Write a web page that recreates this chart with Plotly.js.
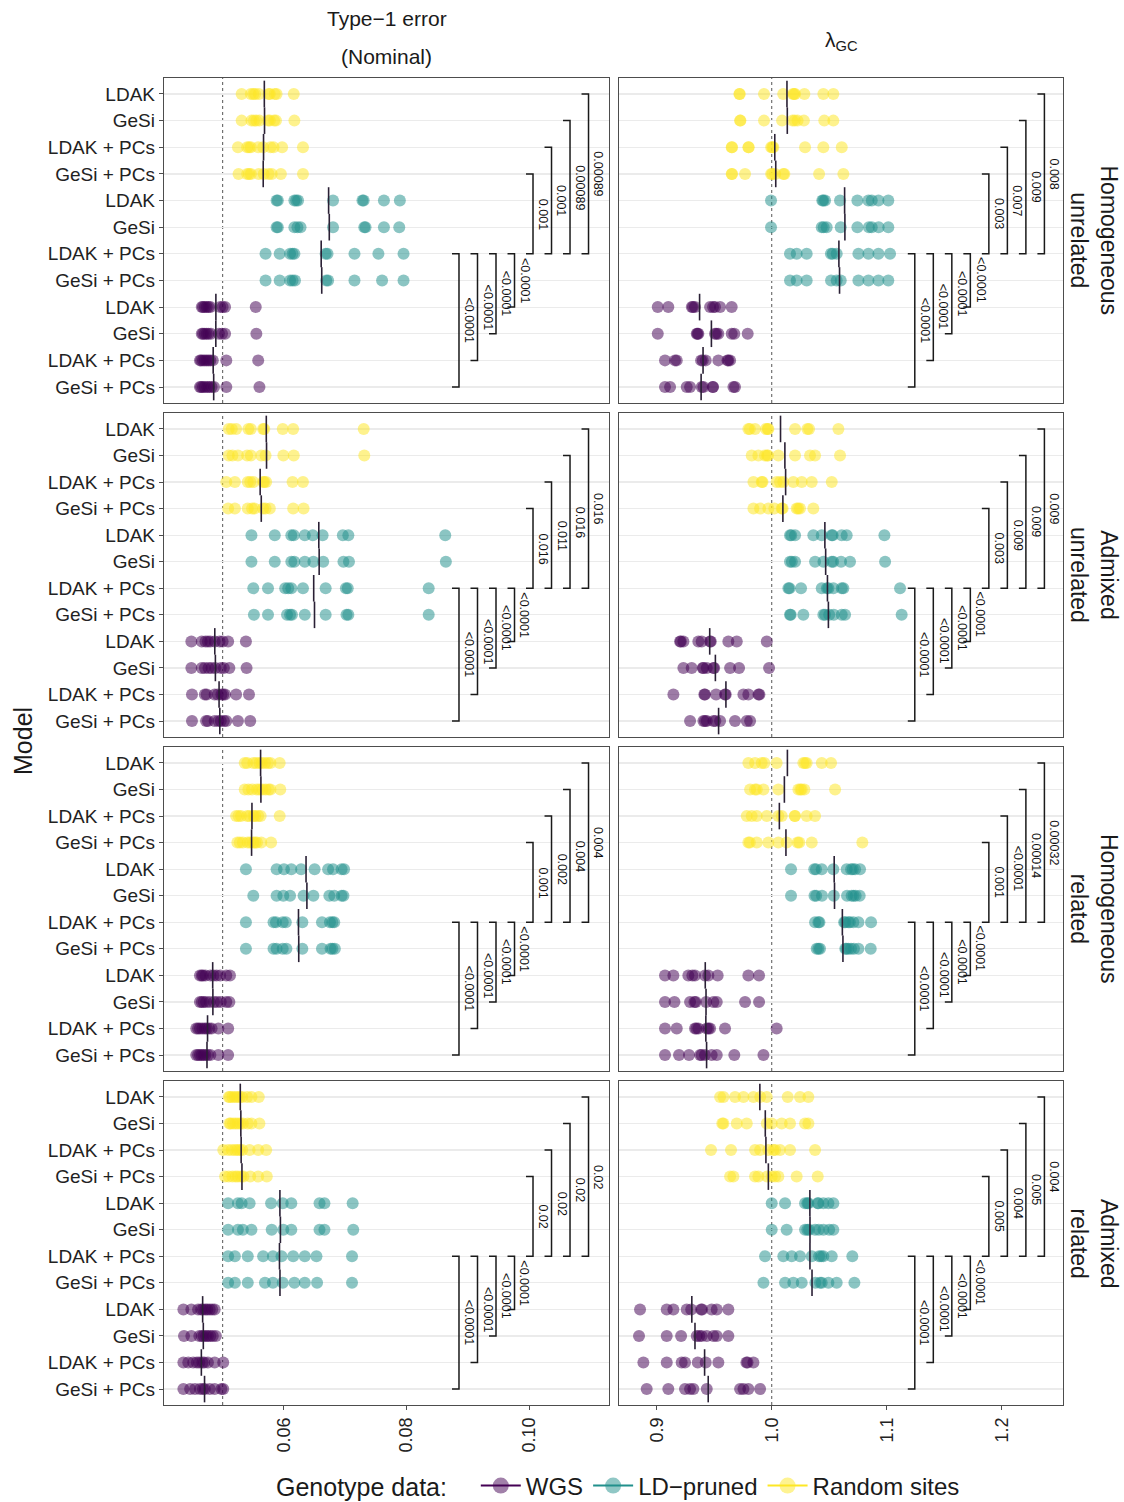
<!DOCTYPE html>
<html><head><meta charset="utf-8">
<script src="https://cdn.plot.ly/plotly-3.0.1.min.js"></script>
<style>html,body{margin:0;padding:0;background:#fff}#chart{width:1124px;height:1502px}</style>
</head><body><div id="chart"></div>
<script>
// ---------------- DATA ----------------
const methods = ["LDAK", "GeSi", "LDAK + PCs", "GeSi + PCs"];
const tickLabels = methods.concat(methods, methods);
const genotypeNames = ["WGS", "LD\u2212pruned", "Random sites"];
const genotypeColors = ["#440154", "#21908C", "#FDE725"];
// rows 0-3: Random sites, 4-7: LD-pruned, 8-11: WGS
const rowGenotype = [2,2,2,2,1,1,1,1,0,0,0,0];
const columnTitles = ["Type\u22121 error", "(Nominal)", "\u03bb<sub>GC</sub>"];
const rowStrips = ["Homogeneous<br>unrelated", "Admixed<br>unrelated", "Homogeneous<br>related", "Admixed<br>related"];
const xTickVals = [[0.06, 0.08, 0.10], [0.9, 1.0, 1.1, 1.2]];
const xTickText = [["0.06", "0.08", "0.10"], ["0.9", "1.0", "1.1", "1.2"]];
const nominalRef = [0.05, 1.0];

const type1_HomUnrel = [
 [0.0531,0.0546,0.0550,0.0553,0.0559,0.0575,0.0577,0.0585,0.0588,0.0616],
 [0.0531,0.0547,0.0551,0.0555,0.0560,0.0574,0.0577,0.0584,0.0587,0.0617],
 [0.0525,0.0540,0.0543,0.0546,0.0558,0.0566,0.0578,0.0583,0.0597,0.0631],
 [0.0526,0.0540,0.0543,0.0546,0.0559,0.0567,0.0575,0.0580,0.0595,0.0631],
 [0.0588,0.0590,0.0617,0.0620,0.0623,0.0680,0.0728,0.0730,0.0763,0.0789],
 [0.0588,0.0590,0.0617,0.0622,0.0627,0.0680,0.0731,0.0733,0.0763,0.0788],
 [0.0570,0.0593,0.0610,0.0614,0.0617,0.0668,0.0671,0.0715,0.0754,0.0795],
 [0.0570,0.0593,0.0610,0.0614,0.0618,0.0669,0.0672,0.0715,0.0760,0.0795],
 [0.0466,0.0468,0.0471,0.0474,0.0477,0.0480,0.0496,0.0500,0.0504,0.0554],
 [0.0466,0.0468,0.0471,0.0474,0.0477,0.0481,0.0494,0.0499,0.0504,0.0555],
 [0.0463,0.0465,0.0468,0.0471,0.0474,0.0477,0.0480,0.0484,0.0506,0.0558],
 [0.0463,0.0465,0.0468,0.0471,0.0475,0.0478,0.0482,0.0486,0.0506,0.0560]
];
const lambda_HomUnrel = [
 [0.9719,0.9722,0.9933,1.0100,1.0185,1.0195,1.0203,1.0284,1.0449,1.0536],
 [0.9725,0.9728,0.9933,1.0090,1.0180,1.0200,1.0225,1.0280,1.0457,1.0536],
 [0.9652,0.9655,0.9797,0.9800,0.9995,1.0005,1.0014,1.0290,1.0449,1.0609],
 [0.9652,0.9655,0.9768,0.9995,1.0005,1.0030,1.0101,1.0110,1.0412,1.0623],
 [0.9994,1.0440,1.0449,1.0464,1.0594,1.0745,1.0841,1.0870,1.0928,1.1014],
 [0.9994,1.0435,1.0452,1.0478,1.0600,1.0745,1.0845,1.0870,1.0930,1.1014],
 [1.0159,1.0217,1.0304,1.0515,1.0530,1.0565,1.0754,1.0841,1.0928,1.1029],
 [1.0159,1.0217,1.0304,1.0516,1.0565,1.0600,1.0754,1.0841,1.0928,1.1014],
 [0.9009,0.9101,0.9305,0.9315,0.9333,0.9464,0.9490,0.9507,0.9551,0.9652],
 [0.9009,0.9348,0.9355,0.9362,0.9507,0.9520,0.9536,0.9652,0.9675,0.9791],
 [0.9072,0.9159,0.9174,0.9386,0.9400,0.9426,0.9536,0.9615,0.9623,0.9638],
 [0.9072,0.9116,0.9261,0.9290,0.9391,0.9406,0.9487,0.9490,0.9667,0.9681]
];
const type1_AdmUnrel = [
 [0.0510,0.0515,0.0522,0.0542,0.0546,0.0566,0.0568,0.0598,0.0615,0.0730],
 [0.0510,0.0516,0.0525,0.0540,0.0546,0.0563,0.0570,0.0599,0.0616,0.0731],
 [0.0506,0.0520,0.0541,0.0545,0.0550,0.0566,0.0568,0.0571,0.0614,0.0631],
 [0.0509,0.0520,0.0541,0.0548,0.0552,0.0566,0.0570,0.0577,0.0615,0.0632],
 [0.0547,0.0585,0.0612,0.0616,0.0634,0.0647,0.0663,0.0696,0.0705,0.0863],
 [0.0547,0.0585,0.0612,0.0617,0.0634,0.0648,0.0664,0.0697,0.0706,0.0864],
 [0.0550,0.0574,0.0602,0.0607,0.0612,0.0631,0.0668,0.0701,0.0704,0.0836],
 [0.0551,0.0574,0.0605,0.0610,0.0613,0.0634,0.0668,0.0702,0.0705,0.0836],
 [0.0449,0.0466,0.0472,0.0476,0.0480,0.0487,0.0495,0.0500,0.0509,0.0538],
 [0.0449,0.0466,0.0471,0.0477,0.0482,0.0488,0.0497,0.0502,0.0511,0.0539],
 [0.0450,0.0471,0.0474,0.0487,0.0492,0.0498,0.0501,0.0504,0.0522,0.0543],
 [0.0450,0.0473,0.0476,0.0487,0.0493,0.0497,0.0502,0.0506,0.0525,0.0545]
];
const lambda_AdmUnrel = [
 [0.9797,0.9810,0.9855,0.9950,0.9965,0.9971,1.0203,1.0310,1.0325,1.0580],
 [0.9826,0.9884,0.9942,0.9960,0.9968,1.0058,1.0203,1.0333,1.0377,1.0594],
 [0.9841,0.9913,0.9920,1.0043,1.0072,1.0101,1.0188,1.0261,1.0348,1.0522],
 [0.9841,0.9899,0.9971,1.0023,1.0087,1.0095,1.0217,1.0230,1.0246,1.0362],
 [1.0159,1.0170,1.0203,1.0362,1.0435,1.0522,1.0530,1.0609,1.0652,1.0980],
 [1.0159,1.0175,1.0203,1.0377,1.0450,1.0522,1.0535,1.0603,1.0681,1.0986],
 [1.0145,1.0155,1.0255,1.0435,1.0480,1.0493,1.0536,1.0609,1.0623,1.1116],
 [1.0159,1.0165,1.0275,1.0449,1.0464,1.0500,1.0540,1.0609,1.0638,1.1130],
 [0.9203,0.9210,0.9232,0.9362,0.9391,0.9464,0.9470,0.9623,0.9696,0.9957],
 [0.9232,0.9304,0.9400,0.9406,0.9435,0.9493,0.9500,0.9638,0.9716,0.9977],
 [0.9145,0.9414,0.9420,0.9516,0.9594,0.9600,0.9754,0.9797,0.9885,0.9893],
 [0.9290,0.9406,0.9420,0.9435,0.9493,0.9510,0.9551,0.9681,0.9783,0.9812]
];
const type1_HomRel = [
 [0.0536,0.0540,0.0550,0.0555,0.0560,0.0564,0.0569,0.0574,0.0578,0.0593],
 [0.0536,0.0542,0.0548,0.0556,0.0560,0.0565,0.0570,0.0575,0.0578,0.0594],
 [0.0522,0.0526,0.0530,0.0540,0.0544,0.0550,0.0553,0.0558,0.0562,0.0593],
 [0.0524,0.0528,0.0533,0.0541,0.0545,0.0550,0.0553,0.0556,0.0563,0.0579],
 [0.0538,0.0588,0.0600,0.0612,0.0628,0.0650,0.0672,0.0680,0.0694,0.0698],
 [0.0550,0.0588,0.0599,0.0610,0.0632,0.0648,0.0674,0.0682,0.0694,0.0697],
 [0.0538,0.0583,0.0587,0.0598,0.0603,0.0630,0.0662,0.0675,0.0679,0.0682],
 [0.0538,0.0583,0.0588,0.0598,0.0604,0.0630,0.0662,0.0676,0.0679,0.0683],
 [0.0463,0.0466,0.0468,0.0472,0.0480,0.0485,0.0490,0.0496,0.0506,0.0512],
 [0.0463,0.0466,0.0469,0.0473,0.0479,0.0486,0.0491,0.0497,0.0506,0.0511],
 [0.0457,0.0460,0.0463,0.0467,0.0471,0.0474,0.0478,0.0482,0.0493,0.0509],
 [0.0457,0.0460,0.0463,0.0466,0.0469,0.0472,0.0476,0.0480,0.0493,0.0509]
];
const lambda_HomRel = [
 [0.9797,0.9855,0.9913,0.9936,1.0043,1.0275,1.0290,1.0304,1.0435,1.0516],
 [0.9812,0.9855,0.9870,0.9928,1.0058,1.0232,1.0250,1.0261,1.0284,1.0551],
 [0.9783,0.9826,0.9870,0.9957,1.0058,1.0087,1.0200,1.0203,1.0304,1.0377],
 [0.9797,0.9810,0.9870,0.9971,1.0058,1.0130,1.0225,1.0240,1.0348,1.0788],
 [1.0168,1.0370,1.0385,1.0435,1.0536,1.0652,1.0690,1.0705,1.0725,1.0768],
 [1.0168,1.0372,1.0387,1.0437,1.0540,1.0655,1.0695,1.0712,1.0730,1.0765],
 [1.0377,1.0406,1.0415,1.0630,1.0640,1.0667,1.0680,1.0710,1.0754,1.0864],
 [1.0391,1.0406,1.0420,1.0640,1.0650,1.0667,1.0690,1.0715,1.0754,1.0861],
 [0.9072,0.9145,0.9275,0.9310,0.9333,0.9420,0.9449,0.9530,0.9797,0.9890],
 [0.9072,0.9154,0.9290,0.9328,0.9340,0.9430,0.9493,0.9522,0.9768,0.9890],
 [0.9072,0.9174,0.9333,0.9345,0.9362,0.9435,0.9450,0.9464,0.9594,1.0043],
 [0.9072,0.9194,0.9281,0.9377,0.9390,0.9420,0.9478,0.9522,0.9675,0.9928]
];
const type1_AdmRel = [
 [0.0510,0.0512,0.0516,0.0520,0.0524,0.0528,0.0532,0.0540,0.0547,0.0559],
 [0.0511,0.0513,0.0517,0.0521,0.0525,0.0529,0.0533,0.0541,0.0547,0.0560],
 [0.0501,0.0509,0.0515,0.0520,0.0524,0.0528,0.0532,0.0544,0.0558,0.0571],
 [0.0504,0.0510,0.0516,0.0521,0.0525,0.0530,0.0534,0.0545,0.0558,0.0572],
 [0.0509,0.0525,0.0531,0.0544,0.0579,0.0598,0.0612,0.0658,0.0666,0.0712],
 [0.0509,0.0525,0.0533,0.0547,0.0580,0.0599,0.0612,0.0658,0.0666,0.0713],
 [0.0509,0.0520,0.0541,0.0566,0.0582,0.0596,0.0615,0.0634,0.0653,0.0711],
 [0.0509,0.0520,0.0541,0.0569,0.0582,0.0598,0.0617,0.0634,0.0654,0.0711],
 [0.0436,0.0449,0.0460,0.0465,0.0468,0.0472,0.0475,0.0479,0.0483,0.0487],
 [0.0437,0.0449,0.0462,0.0466,0.0469,0.0473,0.0476,0.0480,0.0484,0.0489],
 [0.0436,0.0444,0.0452,0.0458,0.0462,0.0467,0.0470,0.0476,0.0487,0.0501],
 [0.0436,0.0447,0.0455,0.0463,0.0468,0.0471,0.0479,0.0487,0.0498,0.0501]
];
const lambda_AdmRel = [
 [0.9551,0.9580,0.9681,0.9754,0.9841,0.9900,0.9957,1.0139,1.0246,1.0319],
 [0.9570,0.9580,0.9696,0.9783,0.9957,1.0000,1.0087,1.0159,1.0290,1.0319],
 [0.9472,0.9646,0.9855,0.9899,0.9971,1.0014,1.0030,1.0072,1.0159,1.0377],
 [0.9638,0.9667,0.9855,0.9884,0.9960,1.0000,1.0029,1.0058,1.0217,1.0400],
 [1.0000,1.0116,1.0290,1.0310,1.0319,1.0400,1.0406,1.0449,1.0493,1.0536],
 [1.0000,1.0130,1.0290,1.0310,1.0325,1.0377,1.0410,1.0450,1.0500,1.0536],
 [0.9942,1.0101,1.0174,1.0246,1.0348,1.0412,1.0430,1.0449,1.0522,1.0701],
 [0.9928,1.0116,1.0188,1.0261,1.0380,1.0420,1.0435,1.0493,1.0565,1.0719],
 [0.8855,0.9087,0.9145,0.9261,0.9300,0.9386,0.9395,0.9478,0.9522,0.9623],
 [0.8846,0.9087,0.9212,0.9348,0.9370,0.9391,0.9435,0.9493,0.9522,0.9623],
 [0.8884,0.9087,0.9217,0.9246,0.9357,0.9426,0.9536,0.9780,0.9790,0.9841],
 [0.8913,0.9101,0.9246,0.9290,0.9319,0.9435,0.9725,0.9754,0.9797,0.9899]
];

// comparison brackets (left to right): first four span rows 6->11,10,9,8 ; last four rows 3,2,1,0 -> 6
const bracketFrom = [6, 6, 6, 6, 3, 2, 1, 0];
const bracketTo   = [11, 10, 9, 8, 6, 6, 6, 6];
const pLower = ["<0.0001", "<0.0001", "<0.0001", "<0.0001"];
const pUpper_type1_HomUnrel  = ["0.001", "0.001", "0.00089", "0.00089"];
const pUpper_lambda_HomUnrel = ["0.003", "0.007", "0.009", "0.008"];
const pUpper_type1_AdmUnrel  = ["0.016", "0.011", "0.016", "0.016"];
const pUpper_lambda_AdmUnrel = ["0.003", "0.009", "0.009", "0.009"];
const pUpper_type1_HomRel    = ["0.001", "0.002", "0.004", "0.004"];
const pUpper_lambda_HomRel   = ["0.001", "<0.0001", "0.00014", "0.00032"];
const pUpper_type1_AdmRel    = ["0.02", "0.02", "0.02", "0.02"];
const pUpper_lambda_AdmRel   = ["0.005", "0.004", "0.005", "0.004"];

const panelData = [
 [type1_HomUnrel, lambda_HomUnrel],
 [type1_AdmUnrel, lambda_AdmUnrel],
 [type1_HomRel, lambda_HomRel],
 [type1_AdmRel, lambda_AdmRel]
];
const panelP = [
 [pUpper_type1_HomUnrel, pUpper_lambda_HomUnrel],
 [pUpper_type1_AdmUnrel, pUpper_lambda_AdmUnrel],
 [pUpper_type1_HomRel, pUpper_lambda_HomRel],
 [pUpper_type1_AdmRel, pUpper_lambda_AdmRel]
];

// ---------------- LAYOUT GEOMETRY ----------------
const W = 1124, H = 1502;
const colX = [[164, 609], [619, 1063]];
const rowY = [[78, 403], [413, 737], [747, 1071], [1081, 1405]];
const xRanges = [[0.04044, 0.1130], [0.8672, 1.2533]];
const FONT = "Liberation Sans, Arial, Helvetica, sans-serif";

const mean = a => a.reduce((s, v) => s + v, 0) / a.length;
const hexA = (hex, a) => {
  const n = parseInt(hex.slice(1), 16);
  return `rgba(${(n >> 16) & 255},${(n >> 8) & 255},${n & 255},${a})`;
};

// column-wide extents for bracket placement
const colStats = [0, 1].map(c => {
  let mn = Infinity, mx = -Infinity;
  panelData.forEach(row => row[c].forEach(arr => arr.forEach(v => { mn = Math.min(mn, v); mx = Math.max(mx, v); })));
  return { mn, mx };
});

const traces = [];
const annotations = [];
const shapes = [];
const layout = {
  width: W, height: H,
  margin: { l: 0, r: 0, t: 0, b: 0, autoexpand: false },
  paper_bgcolor: "#ffffff", plot_bgcolor: "#ffffff",
  font: { family: FONT, color: "#1a1a1a" },
  showlegend: true,
  hovermode: false
};

for (let r = 0; r < 4; r++) {
  for (let c = 0; c < 2; c++) {
    const idx = r * 2 + c + 1;
    const xs = idx === 1 ? "" : String(idx);
    const xref = "x" + xs, yref = "y" + xs;
    layout["xaxis" + xs] = {
      domain: [colX[c][0] / W, colX[c][1] / W],
      range: xRanges[c], anchor: yref,
      showgrid: false, zeroline: false,
      showline: true, mirror: true, linecolor: "#4d4d4d", linewidth: 1.2,
      ticks: r === 3 ? "outside" : "", ticklen: 4, tickcolor: "#4d4d4d", tickwidth: 1,
      showticklabels: r === 3,
      tickmode: "array", tickvals: xTickVals[c], ticktext: xTickText[c],
      tickangle: -90, tickfont: { size: 18, color: "#222" },
      fixedrange: true
    };
    layout["yaxis" + xs] = {
      domain: [1 - rowY[r][1] / H, 1 - rowY[r][0] / H],
      range: [11.6, -0.6], anchor: xref,
      tickmode: "array", tickvals: tickLabels.map((_, i) => i), ticktext: tickLabels,
      showticklabels: c === 0,
      ticks: c === 0 ? "outside" : "", ticklen: 4, tickcolor: "#4d4d4d", tickwidth: 1,
      tickfont: { size: 19, color: "#222" },
      showgrid: true, gridcolor: "#ebebeb", gridwidth: 1.2,
      zeroline: false, showline: true, mirror: true, linecolor: "#4d4d4d", linewidth: 1.2,
      fixedrange: true
    };

    const data = panelData[r][c];

    // reference line
    shapes.push({
      type: "line", xref: xref, yref: yref + " domain",
      x0: nominalRef[c], x1: nominalRef[c], y0: 0, y1: 1,
      line: { color: "#666", width: 1.1, dash: "3px,3px" }, layer: "below"
    });

    // points per genotype
    [2, 1, 0].forEach(g => {
      const px = [], py = [];
      data.forEach((arr, i) => {
        if (rowGenotype[i] !== g) return;
        arr.forEach(v => { px.push(v); py.push(i); });
      });
      traces.push({
        type: "scatter", mode: "markers", x: px, y: py, xaxis: xref, yaxis: yref,
        marker: { size: 12, color: genotypeColors[g], opacity: 0.52, line: { width: 0 } },
        showlegend: false, hoverinfo: "skip"
      });
    });

    // mean segments
    const mx = [], my = [];
    data.forEach((arr, i) => {
      const m = mean(arr);
      mx.push(m, m, null); my.push(i - 0.5, i + 0.5, null);
    });
    traces.push({
      type: "scatter", mode: "lines", x: mx, y: my, xaxis: xref, yaxis: yref,
      line: { color: "#2a2035", width: 1.6 }, showlegend: false, hoverinfo: "skip"
    });

    // brackets
    const st = colStats[c];
    const rng = st.mx - st.mn;
    const arm = (xRanges[c][1] - xRanges[c][0]) * 7 / (colX[c][1] - colX[c][0]);
    const bx = [], by = [];
    const labels = pLower.concat(panelP[r][c]);
    for (let k = 0; k < 8; k++) {
      const xk = st.mx + rng * (0.05 + 0.0705 * k);
      const a = bracketFrom[k], b = bracketTo[k];
      bx.push(xk - arm, xk, xk, xk - arm, null);
      by.push(a, a, b, b, null);
      annotations.push({
        xref: xref, yref: yref, x: xk, y: (a + b) / 2,
        text: labels[k], showarrow: false, textangle: 90,
        xanchor: "left", yanchor: "middle", xshift: 1,
        font: { size: 12.5, color: "#111" }
      });
    }
    traces.push({
      type: "scatter", mode: "lines", x: bx, y: by, xaxis: xref, yaxis: yref,
      line: { color: "#1a1a1a", width: 1.5 }, showlegend: false, hoverinfo: "skip"
    });
  }
  // row strip
  const cy = 1 - (rowY[r][0] + rowY[r][1]) / 2 / H;
  annotations.push({
    xref: "paper", yref: "paper", x: 1094 / W, y: cy, xanchor: "center", yanchor: "middle",
    text: rowStrips[r], textangle: 90, showarrow: false, font: { size: 23, color: "#1a1a1a" }
  });
}

// column titles
annotations.push(
  { xref: "paper", yref: "paper", x: 386.5 / W, y: 1 - 18 / H, text: columnTitles[0], showarrow: false, xanchor: "center", yanchor: "middle", font: { size: 21, color: "#1a1a1a" } },
  { xref: "paper", yref: "paper", x: 386.5 / W, y: 1 - 56 / H, text: columnTitles[1], showarrow: false, xanchor: "center", yanchor: "middle", font: { size: 21, color: "#1a1a1a" } },
  { xref: "paper", yref: "paper", x: 841 / W, y: 1 - 41 / H, text: columnTitles[2], showarrow: false, xanchor: "center", yanchor: "middle", font: { size: 21, color: "#1a1a1a" } },
  { xref: "paper", yref: "paper", x: 23 / W, y: 1 - 741 / H, text: "Model", showarrow: false, textangle: -90, xanchor: "center", yanchor: "middle", font: { size: 25, color: "#1a1a1a" } }
);

// legend entries
[0, 1, 2].forEach(g => {
  traces.push({
    type: "scatter", mode: "lines+markers", x: [null], y: [null], xaxis: "x", yaxis: "y",
    name: genotypeNames[g],
    line: { color: genotypeColors[g], width: 2 },
    marker: { size: 16, color: hexA(genotypeColors[g], 0.5) },
    showlegend: true, hoverinfo: "skip"
  });
});

layout.legend = {
  orientation: "h", xref: "container", yref: "container",
  x: 274 / W, xanchor: "left", y: 1 - 1486 / H, yanchor: "middle",
  title: { text: "Genotype data:\u00a0\u00a0\u00a0", side: "left", font: { size: 25, color: "#1a1a1a" } },
  font: { size: 24, color: "#1a1a1a" }, itemwidth: 40, bgcolor: "rgba(0,0,0,0)"
};
layout.annotations = annotations;
layout.shapes = shapes;

Plotly.newPlot("chart", traces, layout, { displayModeBar: false, staticPlot: true });
</script>
</body></html>
